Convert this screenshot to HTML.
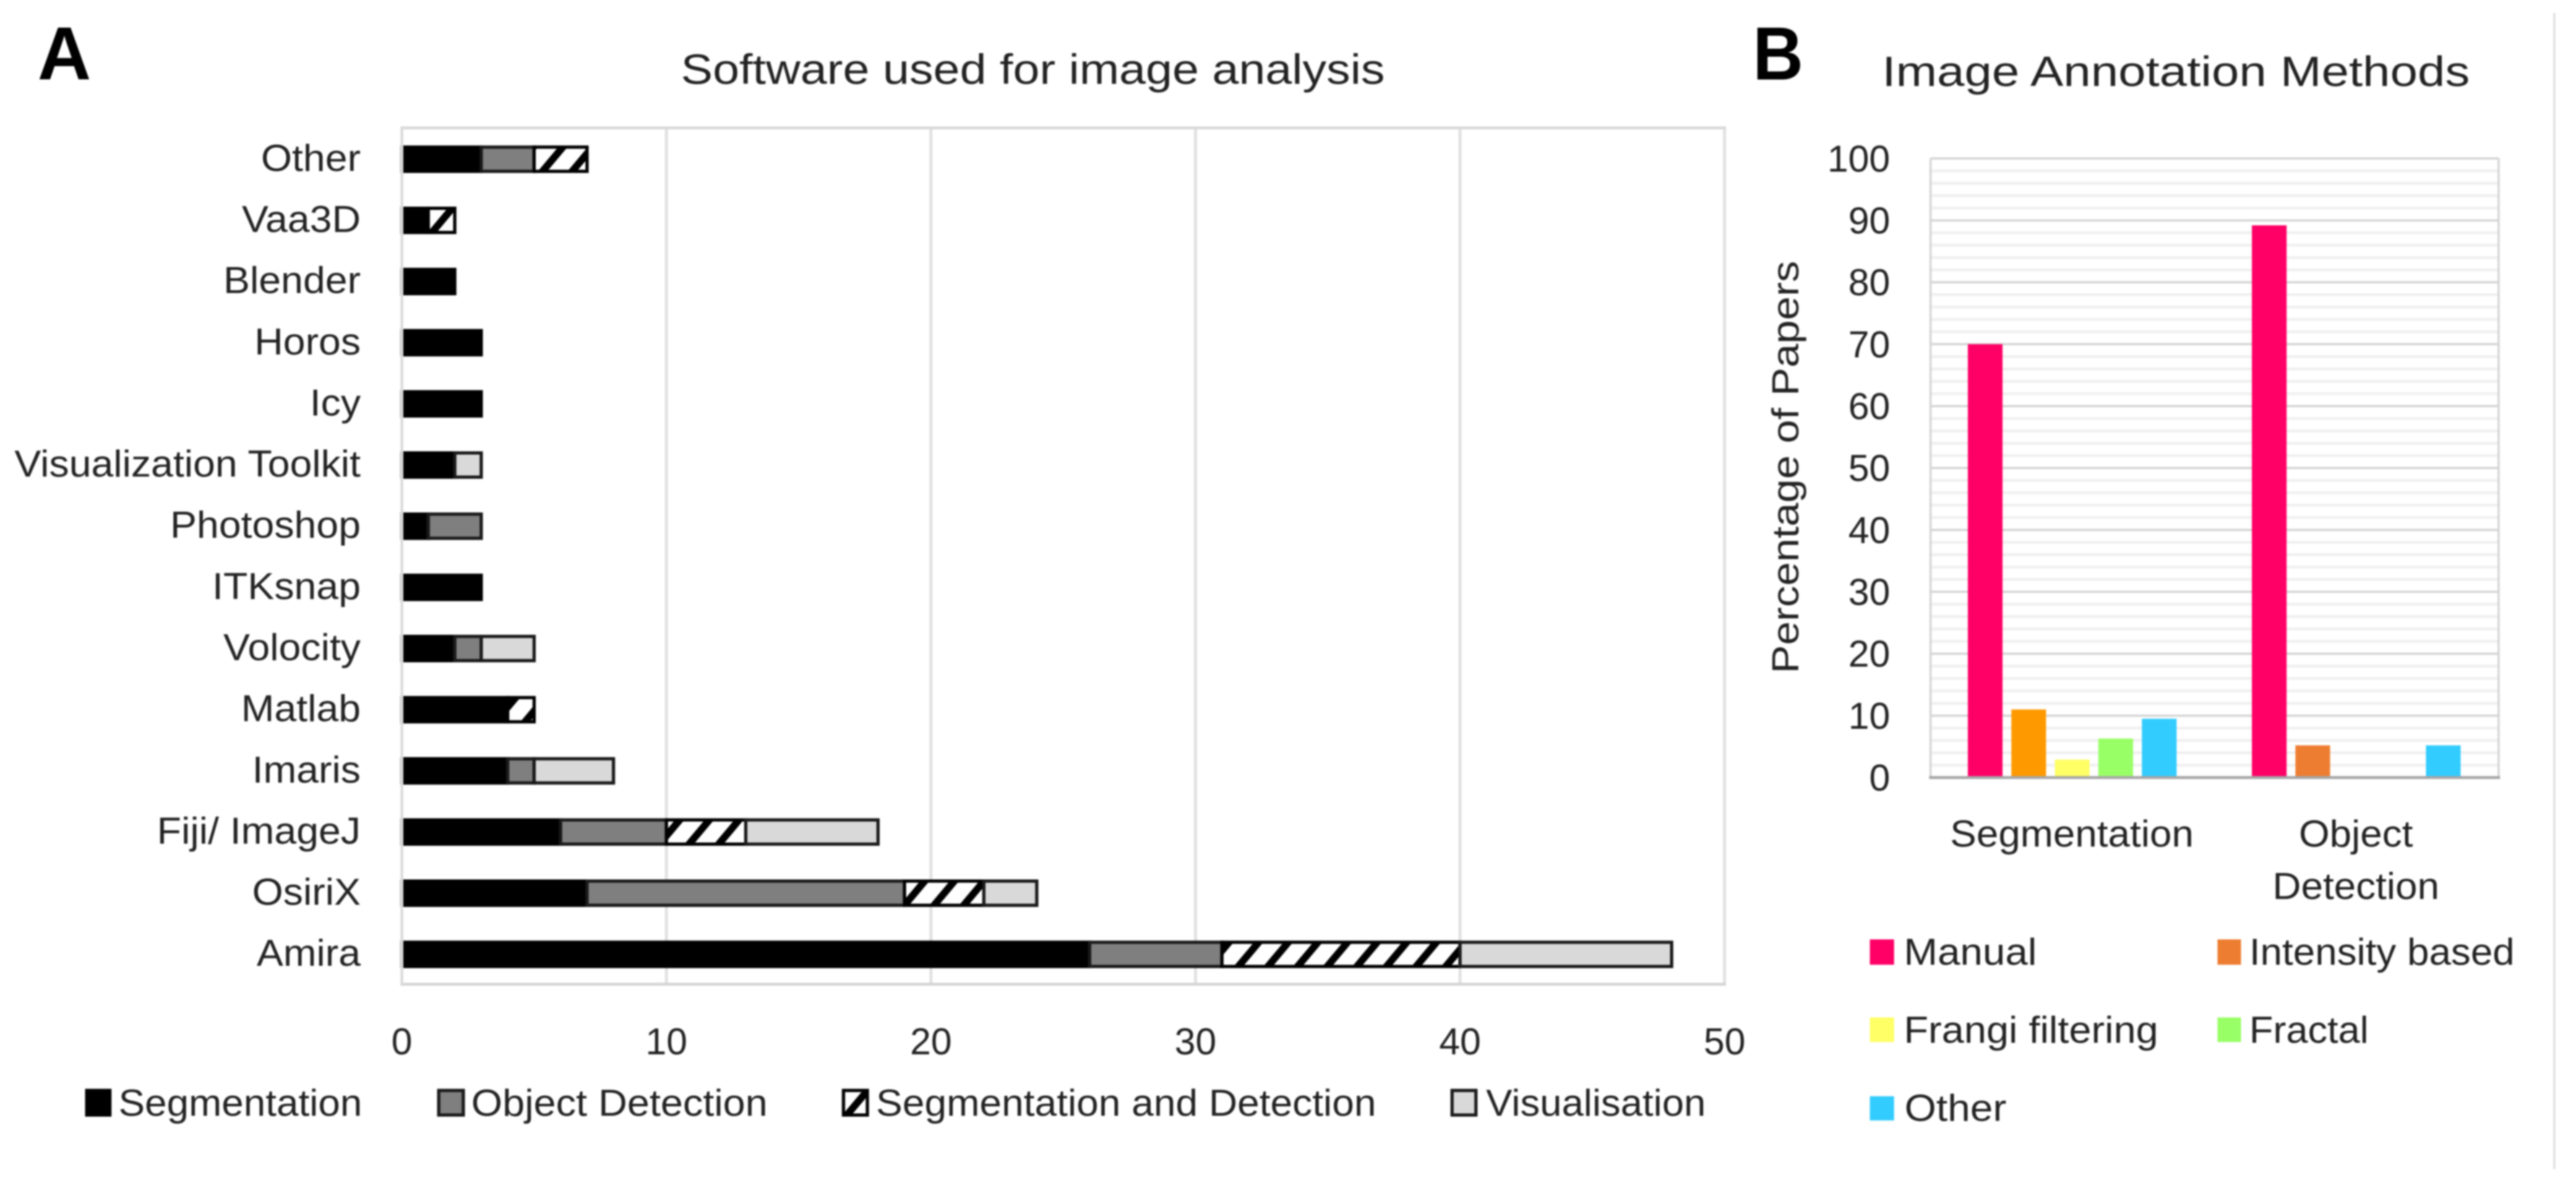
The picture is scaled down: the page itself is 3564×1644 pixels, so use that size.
<!DOCTYPE html>
<html lang="en">
<head>
<meta charset="utf-8">
<title>Software used for image analysis and image annotation methods</title>
<style>
html,body{margin:0;padding:0;background:#fff;width:3564px;height:1644px;overflow:hidden}
svg{display:block;filter:blur(1px)}
text{font-family:"Liberation Sans",sans-serif;fill:#222}
</style>
</head>
<body>
<svg id="figure" xmlns="http://www.w3.org/2000/svg" width="3564" height="1644" viewBox="0 0 3564 1644">
  <defs>
    <pattern id="hatch" patternUnits="userSpaceOnUse" width="41" height="41" patternTransform="skewX(-40)">
      <rect width="41" height="41" fill="#fff"/>
      <rect width="13" height="41" fill="#000"/>
    </pattern>
  </defs>
  <rect width="3564" height="1644" fill="#fff"/>
  <line x1="3534" y1="18" x2="3534" y2="1618" stroke="#e0e0e0" stroke-width="3"/>

  <text x="52" y="110" font-size="104" font-weight="700" textLength="74" lengthAdjust="spacingAndGlyphs" style="fill:#000">A</text>
  <text x="2425" y="110" font-size="104" font-weight="700" textLength="70" lengthAdjust="spacingAndGlyphs" style="fill:#000">B</text>
  <text x="942" y="116" font-size="58" textLength="974" lengthAdjust="spacingAndGlyphs">Software used for image analysis</text>
  <text x="2604" y="119" font-size="58" textLength="813" lengthAdjust="spacingAndGlyphs">Image Annotation Methods</text>

  <g id="chart-a"></g>
  <g id="chart-b"></g>

  <text transform="translate(2488 932) rotate(-90)" font-size="52" textLength="571" lengthAdjust="spacingAndGlyphs">Percentage of Papers</text>

  <g font-size="52">
    <rect x="120" y="1509" width="32" height="34" fill="#000" stroke="#000" stroke-width="4.5"/>
    <text x="164" y="1544" textLength="337" lengthAdjust="spacingAndGlyphs">Segmentation</text>
    <rect x="607" y="1509" width="34" height="34" fill="#7f7f7f" stroke="#1a1a1a" stroke-width="4.5"/>
    <text x="652" y="1544" textLength="410" lengthAdjust="spacingAndGlyphs">Object Detection</text>
    <rect x="1167" y="1509" width="33" height="34" fill="url(#hatch)" stroke="#000" stroke-width="4.5"/>
    <text x="1212" y="1544" textLength="692" lengthAdjust="spacingAndGlyphs">Segmentation and Detection</text>
    <rect x="2009" y="1509" width="33" height="34" fill="#d9d9d9" stroke="#1a1a1a" stroke-width="4.5"/>
    <text x="2056" y="1544" textLength="304" lengthAdjust="spacingAndGlyphs">Visualisation</text>
  </g>

  <g font-size="52">
    <rect x="2587" y="1300" width="33.5" height="35" fill="#ff0066"/>
    <text x="2634" y="1335" textLength="184" lengthAdjust="spacingAndGlyphs">Manual</text>
    <rect x="3068" y="1300" width="32.5" height="35" fill="#ed7d31"/>
    <text x="3112" y="1335" textLength="367" lengthAdjust="spacingAndGlyphs">Intensity based</text>
    <rect x="2587" y="1408" width="33.5" height="34" fill="#ffff66"/>
    <text x="2634" y="1443" textLength="352" lengthAdjust="spacingAndGlyphs">Frangi filtering</text>
    <rect x="3068" y="1408" width="32.5" height="34" fill="#99ff66"/>
    <text x="3112" y="1443" textLength="165" lengthAdjust="spacingAndGlyphs">Fractal</text>
    <rect x="2587" y="1517" width="33.5" height="33.5" fill="#33ccff"/>
    <text x="2635" y="1551" textLength="141" lengthAdjust="spacingAndGlyphs">Other</text>
  </g>
</svg>

<script>
// ---- Panel A data (listed from the bottom row upward) ----
const softwareNames = ["Amira","OsiriX","Fiji/ ImageJ","Imaris","Matlab","Volocity","ITKsnap","Photoshop","Visualization Toolkit","Icy","Horos","Blender","Vaa3D","Other"];
const segmentationCounts = [26,7,6,4,4,2,3,1,2,3,3,2,1,3];
const objectDetectionCounts = [5,12,4,1,0,1,0,2,0,0,0,0,0,2];
const segAndDetectionCounts = [9,3,3,0,1,0,0,0,0,0,0,0,1,2];
const visualisationCounts = [8,2,5,3,0,2,0,0,1,0,0,0,0,0];
const softwareTicks = [0,10,20,30,40,50];

// ---- Panel B data ----
const methodCategories = [["Segmentation"],["Object","Detection"]];
const manualPct = [70,89.2];
const intensityPct = [11,5.2];
const frangiPct = [2.9,0];
const fractalPct = [6.3,0];
const otherPct = [9.5,5.2];
const percentTicks = [0,10,20,30,40,50,60,70,80,90,100];
const percentMinorTicks = [2,4,6,8,12,14,16,18,22,24,26,28,32,34,36,38,42,44,46,48,52,54,56,58,62,64,66,68,72,74,76,78,82,84,86,88,92,94,96,98];

const NS = "http://www.w3.org/2000/svg";
function make(parent, tag, attrs, content) {
  const el = document.createElementNS(NS, tag);
  for (const k in attrs) el.setAttribute(k, attrs[k]);
  if (content !== undefined) el.textContent = content;
  parent.appendChild(el);
  return el;
}
function label(parent, str, x, y, anchor, ratio) {
  const el = make(parent, "text", {x: x, y: y, "text-anchor": anchor, "font-size": 52}, str);
  const w = el.getComputedTextLength();
  el.setAttribute("textLength", (w * ratio).toFixed(1));
  el.setAttribute("lengthAdjust", "spacingAndGlyphs");
  return el;
}

// ---- Panel A ----
const chartA = document.getElementById("chart-a");
const aLeft = 556, aRight = 2386, aTop = 177, aBottom = 1362, aMax = 50;
const xA = v => aLeft + (v / aMax) * (aRight - aLeft);
const bandA = (aBottom - aTop) / softwareNames.length;
const yA = i => aBottom - (i + 0.5) * bandA;

softwareTicks.forEach(t => {
  if (t === 0) return;
  const g = make(chartA, "line", {x1: xA(t), x2: xA(t), y1: aTop, y2: aBottom, stroke: "#e0e0e0", "stroke-width": 4});
  
  
});
const aTopLine = make(chartA, "line", {x1: aLeft - 2, x2: aRight + 2, y1: aTop, y2: aTop, stroke: "#d9d9d9", "stroke-width": 4});


const aBottomLine = make(chartA, "line", {x1: aLeft - 2, x2: aRight + 2, y1: aBottom, y2: aBottom, stroke: "#d4d4d4", "stroke-width": 4});



const aSeries = [
  {values: segmentationCounts, fill: "#000", stroke: "#000"},
  {values: objectDetectionCounts, fill: "#7f7f7f", stroke: "#1a1a1a"},
  {values: segAndDetectionCounts, fill: "url(#hatch)", stroke: "#000"},
  {values: visualisationCounts, fill: "#d9d9d9", stroke: "#1a1a1a"}
];
softwareNames.forEach((name, i) => {
  let acc = 0;
  aSeries.forEach(s => {
    const v = s.values[i];
    if (v > 0) {
      const bar = make(chartA, "rect", {x: xA(acc), y: yA(i) + 1 - 16.75, width: xA(acc + v) - xA(acc), height: 33.5, fill: s.fill, stroke: s.stroke, "stroke-width": 4.5});
      
      
    }
    acc += v;
  });
  const cat = label(chartA, name, 499, yA(i) + 17, "end", 1.06);
  
  
});
const aLeftLine = make(chartA, "line", {x1: aLeft, x2: aLeft, y1: aTop, y2: aBottom, stroke: "#dcdcdc", "stroke-width": 4});


softwareTicks.forEach(t => {
  const tick = label(chartA, String(t), xA(t), 1459, "middle", 1);
  
  
});

// ---- Panel B ----
const chartB = document.getElementById("chart-b");
const bLeft = 2671, bRight = 3457, bTop = 219.3, bBottom = 1076, bMax = 100;
const yB = v => bBottom - (v / bMax) * (bBottom - bTop);
const groupW = (bRight - bLeft) / methodCategories.length;
const barPitch = 60.2, barW = 48;
const xB = (g, s) => bLeft + (g + 0.5) * groupW + (s - 2) * barPitch - barW / 2 - 0.5;

percentMinorTicks.forEach(t => {
  const m = make(chartB, "line", {x1: bLeft, x2: bRight, y1: yB(t), y2: yB(t), stroke: "#f0f0f0", "stroke-width": 4});
  
  
});
percentTicks.forEach(t => {
  if (t > 0) {
    const g = make(chartB, "line", {x1: bLeft, x2: bRight, y1: yB(t), y2: yB(t), stroke: "#d4d4d4", "stroke-width": 3});
    
    
  }
  const tl = label(chartB, String(t), 2615, yB(t) + 18, "end", 1);
  
  
});
[bLeft, bRight].forEach(x => {
  const b = make(chartB, "line", {x1: x, x2: x, y1: bTop, y2: bBottom, stroke: "#d4d4d4", "stroke-width": 3});
  
  
});

const bSeries = [manualPct, intensityPct, frangiPct, fractalPct, otherPct];
const bColors = [["#ff0066","#ff0066"],["#ff9900","#ed7d31"],["#ffff66","#ffff66"],["#99ff66","#99ff66"],["#33ccff","#33ccff"]];
methodCategories.forEach((cat, g) => {
  bSeries.forEach((vals, s) => {
    const v = vals[g];
    if (v > 0) {
      const bar = make(chartB, "rect", {x: xB(g, s), y: yB(v), width: barW, height: yB(0) - yB(v), fill: bColors[s][g]});
      
      
    }
  });
  cat.forEach((line, n) => {
    const t = label(chartB, line, bLeft + (g + 0.5) * groupW - 1, 1171.5 + n * 72.5, "middle", 1.05);
    
    
  });
});
const bAxis = make(chartB, "line", {x1: bLeft - 2, x2: bRight + 2, y1: bBottom, y2: bBottom, stroke: "#a6a6a6", "stroke-width": 4});


</script>
</body>
</html>
